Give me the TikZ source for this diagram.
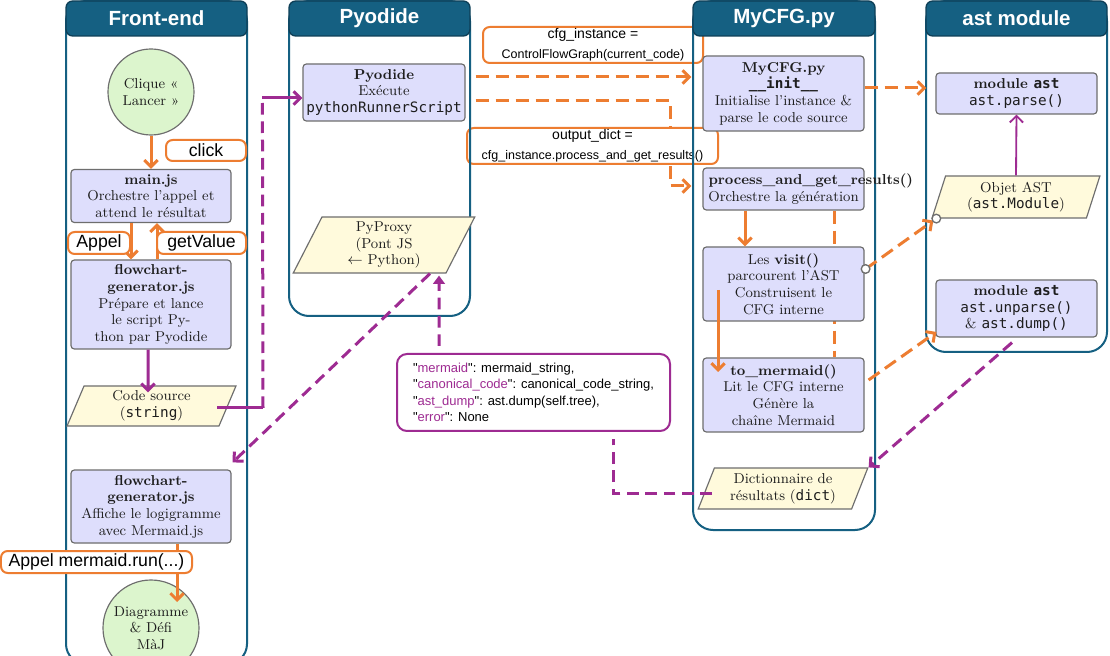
\documentclass[tikz,border=0pt]{standalone}
\usepackage{fontspec}
\setmonofont{DejaVu Sans Mono}
\newfontfamily\sansf{Liberation Sans}
\usetikzlibrary{arrows.meta,shapes.geometric,calc}
\definecolor{oran}{RGB}{237,125,49}
\definecolor{purp}{RGB}{158,43,146}
\definecolor{laneblue}{RGB}{21,96,130}
\definecolor{hdrline}{RGB}{14,63,87}
\definecolor{boxfill}{RGB}{222,222,252}
\definecolor{boxline}{RGB}{110,110,110}
\definecolor{greenfill}{RGB}{220,245,205}
\definecolor{parafill}{RGB}{255,250,220}
\definecolor{txt}{RGB}{30,30,30}
\pgfdeclarelayer{paper}
\pgfdeclarelayer{bgedge}
\pgfdeclarelayer{callmid}
\pgfdeclarelayer{lanes}
\pgfsetlayers{paper,bgedge,callmid,lanes,main}
\def\u{0.6pt}
\tikzset{
  nfont/.style={font=\fontsize{8.6}{10}\selectfont},
  box/.style={draw=boxline, fill=boxfill, rounded corners=2pt, line width=0.7pt, align=center, nfont, inner sep=1pt, text=txt},
  para/.style={trapezium, trapezium stretches=true, draw=boxline, fill=parafill, line width=0.7pt, align=center, nfont, inner sep=0pt, text=txt},
  circ/.style={circle, draw=boxline, fill=greenfill, line width=0.7pt, align=center, nfont, inner sep=0pt, text=txt},
  callout/.style={draw=oran, line width=1.2pt, fill=white, rounded corners=4pt, inner sep=0pt, align=center, font=\sansf\fontsize{10.6}{12}\selectfont},
  hdr/.style={draw=hdrline, fill=laneblue, rounded corners=4pt, text=white, font=\sansf\bfseries\fontsize{12.3}{14}\selectfont, inner sep=0pt, line width=0.8pt},
  lane/.style={draw=laneblue, line width=1.2pt, rounded corners=12pt},
  oline/.style={draw=oran, line width=1.8pt},
  odash/.style={oline, dash pattern=on 8pt off 4pt},
  pline/.style={draw=purp, line width=1.8pt},
  pdash/.style={pline, dash pattern=on 7pt off 4pt},
  pthin/.style={draw=purp, line width=1.1pt},
  otip/.style={-{Straight Barb[length=4pt,width=8pt]}},
  ptip/.style={-{Straight Barb[length=4pt,width=8pt]}},
  cmark/.style={draw=boxline, fill=white, line width=0.8pt},
}
\begin{document}
\begin{tikzpicture}[x=0.6pt,y=-0.6pt]
\useasboundingbox (0,0) rectangle (1110,656);
\begin{pgfonlayer}{paper}
\fill[white] (0,0) rectangle (1110,656);
\end{pgfonlayer}

% lanes
\begin{pgfonlayer}{lanes}
\draw[lane] (66,1) rectangle (247,664);
\draw[lane] (289,1) rectangle (470,316);
\draw[lane] (693,1) rectangle (875,530);
\draw[lane] (926,1) rectangle (1107,352);
\end{pgfonlayer}

% headers
\node[hdr, minimum width=181*\u, minimum height=35*\u] (hf) at (156.5,18.5) {Front-end};
\node[hdr, minimum width=181*\u, minimum height=35*\u] (hp) at (379.5,18.5) {Pyodide};
\node[hdr, minimum width=182*\u, minimum height=35*\u] (hm) at (784,18.5) {MyCFG.py};
\node[hdr, minimum width=181*\u, minimum height=35*\u] (ha) at (1016.5,18.5) {ast module};

% Front-end nodes
\node[circ, minimum size=86*\u] (start) at (151,92) {Clique «\\Lancer »};
\node[box, minimum width=160*\u, minimum height=53*\u] (mainjs) at (151,196) {\textbf{main.js}\\Orchestre l’appel et\\attend le résultat};
\node[box, minimum width=160*\u, minimum height=89*\u] (fg1) at (151,304.5) {\textbf{flowchart-}\\\textbf{generator.js}\\Prépare et lance\\le script Py-\\thon par Pyodide};
\node[para, trapezium left angle=72, trapezium right angle=108, minimum width=169*\u, minimum height=40*\u] (code) at (151.5,406) {Code source\\(\texttt{string})};
\node[box, minimum width=160*\u, minimum height=73*\u] (fg2) at (151,506.5) {\textbf{flowchart-}\\\textbf{generator.js}\\Affiche le logigramme\\avec Mermaid.js};
\node[circ, minimum size=96*\u] (end) at (151,628) {Diagramme\\\& Défi\\MàJ};

% Pyodide nodes
\node[box, minimum width=162*\u, minimum height=57*\u] (pyo) at (384,92.5) {\textbf{Pyodide}\\Exécute\\\texttt{pythonRunnerScript}};
\node[para, trapezium left angle=70, trapezium right angle=110, minimum width=182*\u, minimum height=56*\u] (pyproxy) at (384,245) {PyProxy\\(Pont JS\\$\leftarrow$ Python)};

% MyCFG nodes
\node[box, minimum width=161*\u, minimum height=75*\u] (init) at (783.5,93.5) {\textbf{MyCFG.py}\\\textbf{\texttt{\_\_init\_\_}}\\Initialise l’instance \&\\parse le code source};
\node[box, minimum width=161*\u, minimum height=42*\u] (proc) at (783.5,189) {\makebox[90pt][l]{\textbf{process\_and\_get\_results()}}\\Orchestre la génération};
\node[box, minimum width=161*\u, minimum height=74*\u] (visit) at (783.5,284) {Les \textbf{visit()}\\parcourent l’AST\\Construisent le\\CFG interne};
\node[box, minimum width=161*\u, minimum height=74*\u] (tomer) at (783.5,395) {\textbf{to\_mermaid()}\\Lit le CFG interne\\Génère la\\chaîne Mermaid};
\node[para, trapezium left angle=67.5, trapezium right angle=112.5, minimum width=170*\u, minimum height=41*\u] (dict) at (783,488.5) {Dictionnaire de\\résultats (\texttt{dict})};

% ast nodes
\node[box, minimum width=161*\u, minimum height=41*\u] (parse) at (1016.5,93.5) {\textbf{module \texttt{ast}}\\\texttt{ast.parse()}};
\node[para, trapezium left angle=73, trapezium right angle=107, minimum width=168*\u, minimum height=42*\u] (objast) at (1016,197) {Objet AST\\(\texttt{ast.Module})};
\node[box, minimum width=161*\u, minimum height=57*\u] (unparse) at (1016.5,308.5) {\textbf{module \texttt{ast}}\\\texttt{ast.unparse()}\\\& \texttt{ast.dump()}};

% mermaid dict box
\node[draw=purp, line width=1.2pt, fill=white, rounded corners=6pt, minimum width=273*\u, minimum height=77*\u, align=left, inner sep=0pt, font=\sansf\fontsize{7.8}{9.9}\selectfont] (mermaid) at (533.5,392.5)
{"\textcolor{purp}{mermaid}": mermaid\_string,\\
"\textcolor{purp}{canonical\_code}": canonical\_code\_string,\\
"\textcolor{purp}{ast\_dump}": ast.dump(self.tree),\\
"\textcolor{purp}{error}": None};

% hidden edges
\begin{pgfonlayer}{bgedge}
\draw[odash,otip] ([shift={(10,8.5)}]pyo.east) -| ([shift={(-32,-3)}]proc.west) -- ([shift={(-11,-3)}]proc.west);
\draw[odash] ([shift={(50.5,0)}]proc.south) -- ([shift={(50.5,0)}]tomer.north);
\end{pgfonlayer}

% callouts under lanes
\begin{pgfonlayer}{callmid}
\node[callout, minimum width=220*\u, minimum height=36*\u] (cfgc) at (593,45) {{\fontsize{8.4}{9.6}\selectfont cfg\_instance =}\\{\fontsize{7.5}{9}\selectfont ControlFlowGraph(current\_code)}};
\node[callout, minimum width=251*\u, minimum height=36*\u] (outc) at (592.5,146) {{\fontsize{8.4}{9.6}\selectfont output\_dict =}\\{\fontsize{7.5}{9}\selectfont cfg\_instance.process\_and\_get\_results()}};
\end{pgfonlayer}

% edges
\draw[oline,otip] (start) -- (mainjs);
\draw[oline,otip] ([shift={(-20,0)}]mainjs.south) -- ([shift={(-20,0)}]fg1.north);
\draw[oline,otip] ([shift={(6,0)}]fg1.north) -- ([shift={(6,0)}]mainjs.south);
\draw[pline,ptip] ([shift={(-3,0)}]fg1.south) -- ([shift={(-3.5,7)}]code.north);
\coordinate (k1) at ([shift={(111.5,2)}]code.center);
\coordinate (k2) at ([shift={(-40,5.5)}]pyo.west);
\draw[pline] ([shift={(65.5,2)}]code.center) -- (k1);
\draw[pdash] (k1) -- (k2);
\draw[pline,ptip] (k2) -- (k2 -| pyo.west);
\draw[odash,otip] ([shift={(10,-15.5)}]pyo.east) -- ([shift={(-11,-16.5)}]init.west);
\draw[odash,otip] ([shift={(0,-5.5)}]init.east) -- ([shift={(-9,-5.5)}]parse.west);
\draw[oline,otip] ([shift={(-38.5,0)}]proc.south) -- ([shift={(-38.5,0)}]visit.north);
\draw[oline,otip] ([shift={(-65.5,6)}]visit.center) -- ([shift={(-65.5,-23)}]tomer.center);
\draw[odash,otip] ([shift={(1,-15)}]visit.east) -- ([shift={(2,2)}]objast.bottom left corner);
\draw[cmark] ([shift={(1,-15)}]visit.east) circle (2.6pt);
\draw[cmark] ([shift={(5,0)}]objast.bottom left corner) circle (2.6pt);
\draw[odash,otip] ([shift={(4,-15)}]tomer.east) -- ([shift={(1,23.5)}]unparse.west);
\draw[pthin,ptip] (objast.north) -- (parse.south);
\draw[pdash,ptip] ([shift={(-4.5,5)}]unparse.south) -- (dict.top right corner);
\draw[pdash] ([shift={(-71,4.5)}]dict.center) -| ([shift={(79.5,7)}]mermaid.south);
\draw[pdash,-{Triangle[length=5pt,width=7pt]}] ([shift={(-94.5,-7)}]mermaid.north) -- ([shift={(55,2)}]pyproxy.south);
\draw[pdash,ptip] ([shift={(46,0)}]pyproxy.south) -- ([shift={(1,-7)}]fg2.north east);
\draw[oline,otip] ([shift={(26,0)}]fg2.south) -- ([shift={(26,-26)}]end.center);

% callouts on top
\node[callout, minimum width=80*\u, minimum height=21*\u] (click) at (206,150.5) {click};
\node[callout, minimum width=62*\u, minimum height=22*\u] (appel) at (99,243) {Appel};
\node[callout, minimum width=89*\u, minimum height=22*\u] (getv) at (201.5,243) {getValue};
\node[callout, minimum width=191*\u, minimum height=22*\u] (mrun) at (96.5,562) {Appel mermaid.run(...)};
\end{tikzpicture}
\end{document}
